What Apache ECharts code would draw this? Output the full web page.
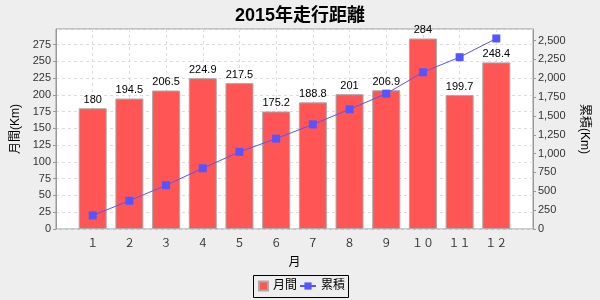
<!DOCTYPE html>
<html><head><meta charset="utf-8">
<script src="https://cdn.jsdelivr.net/npm/echarts@6/dist/echarts.min.js"></script>
<style>html,body{margin:0;padding:0;background:#EEEEEE}#c{width:600px;height:300px}</style>
</head><body><div id="c"></div>
<script>
var categories = ['１','２','３','４','５','６','７','８','９','１０','１１','１２'];
var monthly = [180, 194.5, 206.5, 224.9, 217.5, 175.2, 188.8, 201, 206.9, 284, 199.7, 248.4];
var cumulative = [180, 374.5, 581, 805.9, 1023.4, 1198.6, 1387.4, 1588.4, 1795.3, 2079.3, 2279, 2527.4];
var leftTicksInterval = 25, rightTicksInterval = 250;

var barData = monthly.map(function(v,i){return [i+1, v];});
var lineData = cumulative.map(function(v,i){return [i+1, v];});
var font = "'Liberation Sans','Noto Sans CJK JP',sans-serif";
var chart = echarts.init(document.getElementById('c'));
chart.setOption({
  backgroundColor: '#EEEEEE',
  animation: false,
  textStyle: {fontFamily: font},
  title: {text: '2015年走行距離', left: 'center', top: 2,
    textStyle: {fontSize: 18, fontWeight: 'bold', color: '#000', fontFamily: font}},
  grid: {left: 56, right: 67, top: 29, bottom: 71, show: true, backgroundColor: '#FFFFFF', borderColor: '#999999', borderWidth: 1},
  legend: [
    {data: ['月間'], left: 258, top: 280, padding: 0, itemWidth: 9, itemHeight: 9, itemGap: 0, icon: 'rect',
      textStyle: {fontSize: 12, color: '#000', fontFamily: font}},
    {data: ['累積'], left: 299, top: 280, padding: 0, itemWidth: 16, itemHeight: 9, itemGap: 0,
      textStyle: {fontSize: 12, color: '#000', fontFamily: font}}
  ],
  graphic: [{type: 'rect', shape: {x: 253.5, y: 275.5, width: 95, height: 22}, style: {fill: 'none', stroke: '#000', lineWidth: 1}, silent: true}],
  xAxis: {
    type: 'value', min: 0, max: 13, interval: 1,
    name: '月', nameLocation: 'middle', nameGap: 28,
    nameTextStyle: {fontSize: 12, color: '#000'},
    axisLine: {show: false},
    axisTick: {show: false},
    axisLabel: {color: '#333', fontSize: 11, margin: 9,
      formatter: function(v){ return (v >= 1 && v <= categories.length) ? categories[v-1] : ''; }},
    splitLine: {show: true, lineStyle: {color: '#DDDDDD', type: [3,3], width: 1}}
  },
  yAxis: [
    {type: 'value', min: 0, max: 298.2, interval: leftTicksInterval,
      name: '月間(Km)', nameLocation: 'middle', nameGap: 26, nameRotate: 90,
      nameTextStyle: {fontSize: 12, color: '#000'},
      axisLine: {show: true, lineStyle: {color: '#999999'}},
      axisTick: {show: true, length: 3, lineStyle: {color: '#999999'}},
      axisLabel: {color: '#333', fontSize: 11, margin: 5, showMaxLabel: false},
      splitLine: {show: true, lineStyle: {color: '#DDDDDD', type: [3,3], width: 1}}},
    {type: 'value', min: 0, max: 2653, interval: rightTicksInterval, position: 'right',
      name: '累積(Km)', nameLocation: 'middle', nameGap: 45, nameRotate: -90,
      nameTextStyle: {fontSize: 12, color: '#000'},
      axisLine: {show: true, lineStyle: {color: '#999999'}},
      axisTick: {show: true, length: 3, lineStyle: {color: '#999999'}},
      axisLabel: {color: '#333', fontSize: 11, margin: 5, showMaxLabel: false,
        formatter: function(v){ return v.toLocaleString('en-US'); }},
      splitLine: {show: false}}
  ],
  series: [
    {name: '月間', type: 'bar', data: barData, yAxisIndex: 0, barWidth: 28,
      itemStyle: {color: '#FF5555', borderColor: '#AAAAAA', borderWidth: 1},
      label: {show: true, position: 'top', distance: 3, color: '#000', fontSize: 11, fontFamily: font}},
    {name: '累積', type: 'line', data: lineData, yAxisIndex: 1,
      symbol: 'rect', symbolSize: 8, showAllSymbol: true,
      lineStyle: {color: '#5555FF', width: 1}, itemStyle: {color: '#5555FF'}}
  ]
});
</script></body></html>
